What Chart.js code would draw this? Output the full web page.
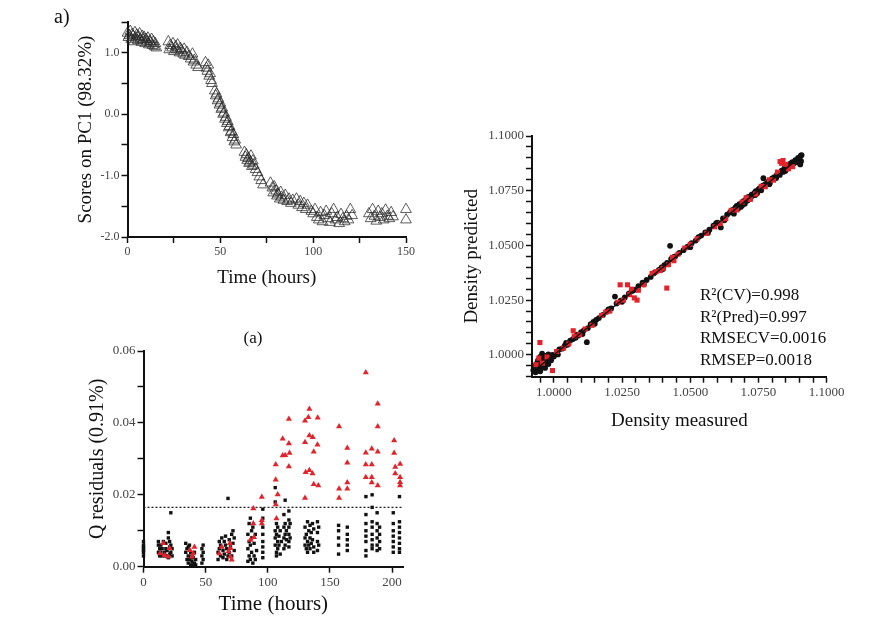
<!DOCTYPE html>
<html>
<head>
<meta charset="utf-8">
<script src="https://cdn.jsdelivr.net/npm/chart.js@4.4.0/dist/chart.umd.min.js"></script>
<style>
  html, body { margin: 0; padding: 0; background: #fff; }
  #wrap { position: relative; width: 890px; height: 624px; }
  #wrap canvas { position: absolute; left: 0; top: 0; }
</style>
</head>
<body>
<div id="wrap">
  <canvas id="pcChart" width="890" height="624"></canvas>
  <canvas id="qChart" width="890" height="624"></canvas>
  <canvas id="densChart" width="890" height="624"></canvas>
</div>
<script>
// ---- panel a) scores on PC1 vs time ----
const pcTime = [
  0,0.5,1,1.5,2,2.5,3,3.5,4,4.5,5,5.5,6,6.5,7,7.5,8,8.5,9,9.5,10,10.5,11,11.5,12,12.5,13,13.5,14,14.5,15,15.5,
  22,22.5,23,24,24.5,25,26,26.5,27,28,28.5,29,30,30.5,31,32,
  33,34,35,35.5,36,37,38,
  42,42.5,43,43.5,44,44.5,45,45.5,
  47,47.5,48,48.5,49,49.5,50,50.5,51,51.5,52,52.5,53,53.5,54,54.5,55,55.5,56,56.5,57,57.5,58,58.5,
  63,63.5,64,64.5,65,65.5,66,66.5,67,67.5,68,69,70,71,72,73,
  77,78,78.5,79,80,80.5,81,82,82.5,83,84,85,86,87,88,89,
  91,92,93,94,95,96,97,99,100,
  101,102,103,104,105,106,107,108,109,110,111,112,113,114,115,116,117,118,119,120,121,
  130,131,132,133,134,135,136,137,138,139,140,141,142,143,
  150,150
];
const pcScore = [
  1.32,1.25,1.28,1.35,1.22,1.30,1.27,1.18,1.33,1.24,1.29,1.20,1.26,1.31,1.22,1.17,1.27,1.21,1.25,1.15,1.22,1.18,1.24,1.13,1.19,1.16,1.22,1.12,1.18,1.10,1.15,1.08,
  1.18,1.05,1.12,1.08,1.15,1.02,1.10,1.05,1.13,1.00,1.07,1.04,0.98,1.06,0.96,1.01,
  0.94,0.90,0.98,0.85,0.88,0.80,0.76,
  0.84,0.75,0.70,0.80,0.62,0.66,0.55,0.50,
  0.38,0.30,0.33,0.22,0.25,0.15,0.18,0.08,0.10,0.0,0.02,-0.08,-0.05,-0.15,-0.12,-0.22,-0.20,-0.30,-0.28,-0.38,-0.33,-0.45,-0.42,-0.50,
  -0.62,-0.70,-0.66,-0.75,-0.72,-0.80,-0.78,-0.68,-0.85,-0.76,-0.83,-0.90,-0.95,-1.02,-1.08,-1.15,
  -1.12,-1.20,-1.28,-1.18,-1.25,-1.33,-1.30,-1.38,-1.27,-1.35,-1.40,-1.32,-1.42,-1.38,-1.45,-1.40,
  -1.38,-1.48,-1.42,-1.52,-1.45,-1.55,-1.48,-1.58,-1.62,
  -1.55,-1.68,-1.72,-1.60,-1.75,-1.65,-1.58,-1.70,-1.76,-1.62,-1.55,-1.72,-1.68,-1.78,-1.63,-1.70,-1.75,-1.66,-1.72,-1.55,-1.65,
  -1.62,-1.70,-1.55,-1.66,-1.74,-1.58,-1.68,-1.62,-1.72,-1.56,-1.66,-1.70,-1.60,-1.67,
  -1.55,-1.72
];
const pcXMajor = [0, 50, 100, 150];
const pcYMajor = [-2, -1, 0, 1];

// ---- panel (a) Q residuals vs time ----
const qTimeBlack = [
  0,0,0,0,0,0,0,
  12,12,12,13,13,14,14,15,15,16,17,17,18,18,19,19,20,20,20,21,21,21,22,22,22,23,23,
  34,34,35,35,36,36,37,37,38,38,39,39,40,40,41,41,42,42,36,38,
  47,47,47,48,48,48,
  60,60,61,61,62,62,63,64,64,65,65,66,66,67,67,68,68,69,69,70,71,71,72,72,73,73,
  84,84,84,85,85,85,86,86,86,87,87,87,88,88,89,89,90,90,91,
  96,96,96,96,96,96,96,96,
  106,106,106,106,106,107,107,107,107,108,108,108,109,109,110,110,111,
  113,113,113,113,114,114,114,114,115,115,117,117,117,117,117,117,118,118,
  130,130,130,131,131,132,132,132,133,133,134,134,134,135,135,136,136,137,137,137,140,140,140,140,141,141,
  157,157,157,157,157,
  164,164,164,164,164,
  179,179,179,179,179,179,179,179,
  184,184,184,184,184,184,184,184,
  188,188,188,188,188,188,190,190,190,190,
  201,201,201,201,201,201,201,
  206,206,206,206,206,206,206,206
];
const qValBlack = [
  .003,.004,.005,.006,.007,.0045,.0055,
  .004,.006,.007,.003,.005,.004,.006,.003,.005,.007,.004,.003,.005,.0065,.003,.0045,.0025,.008,.0095,.0035,.0055,.007,.004,.006,.015,.003,.005,
  .0065,.004,.002,.005,.001,.003,.006,.002,.0005,.004,.0015,.003,.0005,.0025,.001,.004,.002,.0005,.0055,.0025,
  .001,.003,.005,.006,.002,.004,
  .002,.004,.005,.007,.003,.006,.008,.0025,.0045,.007,.0035,.006,.0085,.002,.005,.019,.003,.004,.0075,.0055,.009,.003,.0065,.010,.0045,.008,
  .0015,.005,.009,.012,.003,.007,.0135,.002,.006,.010,.004,.008,.001,.011,.003,.0065,.002,.009,.0045,
  .016,.0135,.011,.009,.007,.0055,.004,.0025,
  .022,.018,.010,.008,.006,.012,.009,.004,.003,.011,.007,.005,.0085,.006,.010,.0035,.007,
  .0145,.011,.008,.005,.0185,.012,.009,.006,.010,.0075,.0155,.013,.011,.009,.007,.0055,.012,.008,
  .011,.008,.006,.009,.005,.0125,.007,.004,.010,.006,.0115,.008,.005,.0095,.0065,.012,.0075,.0105,.0055,.004,.0125,.0095,.007,.0045,.011,.006,
  .0115,.010,.008,.006,.0035,
  .011,.009,.0075,.006,.0045,
  .0195,.0145,.012,.010,.0085,.007,.0045,.003,
  .020,.0165,.0125,.011,.009,.0075,.006,.005,
  .015,.012,.010,.008,.006,.0045,.011,.009,.007,.005,
  .015,.012,.010,.0085,.007,.0055,.004,
  .0195,.0125,.011,.0095,.008,.0065,.005,.004
];
const qTimeRed = [
  106.4,106.4,108,106.5,107,112,112,114,117,117,117,117.5,
  130,132.7,133.5,130,133.5,136.2,137,130.5,133.5,136,137,130,140.2,140,140.7,
  157.4,157.4,157.4,164,164,164,164,
  178.9,178.9,178.9,178.9,183.7,183.7,183.7,183.7,188.5,188.5,188.5,188.5,
  201.7,201.7,202.6,202.6,206.5,206.5,206.5,206.5,
  88.4,88.4,89,86,95.2,95.2,95.2,
  69.6,70,71,68.5,70,63,61,
  37.4,40,39,41,13.3,17,20,21,16
];
const qValRed = [
  .0284,.0242,.0201,.0173,.0134,.0356,.0309,.031,.0343,.0411,.0279,.0316,
  .0406,.0416,.0439,.0346,.0365,.036,.032,.0263,.0268,.0259,.0229,.0191,.0414,.0339,.0226,
  .039,.0217,.0191,.033,.0289,.0234,.0217,
  .054,.0317,.0284,.0249,.0328,.0284,.0249,.0234,.0453,.039,.032,.0226,
  .0351,.0316,.0277,.0259,.0286,.0249,.0235,.0226,
  .0162,.012,.0082,.0074,.0194,.0129,.012,
  .0065,.0028,.0019,.0042,.0051,.0055,.0037,
  .0046,.0037,.0028,.0055,.0037,.0032,.0028,.0051,.0065
];
const qLimitTime = [0, 209];
const qLimitVal = [0.0165, 0.0165];
const qXMajor = [0, 50, 100, 150, 200];
const qYMajor = [0, 0.02, 0.04, 0.06];

// ---- density measured vs predicted ----
const dMeasBlack = [
  0.9925,0.9930,0.9933,0.9937,0.9940,0.9942,0.9945,0.9948,0.9950,0.9952,0.9955,0.9957,0.9960,0.9962,0.9965,0.9968,0.9970,0.9973,0.9976,0.9980,0.9985,0.9990,0.9995,1.0000,
  1.0010,1.0020,1.0030,1.0040,1.0050,1.0060,1.0070,1.0080,1.0090,1.0100,1.0110,1.0121,1.0125,1.0135,1.0145,1.0155,1.0165,1.0180,1.0195,1.0210,
  1.0224,1.0230,1.0245,1.0260,1.0275,1.0290,1.0300,1.0310,1.0325,1.0340,1.0355,1.0370,1.0385,1.0395,1.0405,1.0415,1.0426,1.0430,1.0445,1.0460,
  1.0475,1.0490,1.0505,1.0520,1.0540,1.0555,1.0570,1.0585,1.0600,1.0612,1.0620,1.0635,1.0645,1.0655,1.0660,1.0665,1.0670,1.0675,1.0680,1.0685,
  1.0690,1.0695,1.0700,1.0705,1.0710,1.0715,1.0720,1.0725,1.0730,1.0735,1.0740,1.0745,1.0750,1.0755,1.0760,1.0768,1.0770,1.0778,1.0785,1.0792,
  1.0800,1.0808,1.0815,1.0822,1.0828,1.0835,1.0840,1.0845,1.0850,1.0855,1.0860,1.0865,1.0870,1.0875,1.0880,1.0885,1.0890,1.0895,1.0900,1.0905,1.0908,1.0906,1.0903,
  0.9935,0.9950,0.9965,0.9980,1.0015,1.0045,1.0085,1.0105,1.0150,1.0200,1.0250,1.0285,1.0330,1.0365,1.0400,1.0440,
  1.0500,1.0530,1.0565,1.0595,1.0625,1.0650,1.0690,1.0712,1.0738,1.0765,1.0790,1.0818,1.0848,1.0872,1.0893
];
const dPredBlack = [
  0.9930,0.9945,0.9920,0.9960,0.9938,0.9975,0.9950,0.9930,0.9990,0.9962,0.9945,1.0005,0.9970,0.9955,0.9985,0.9940,0.9995,0.9968,0.9980,0.9958,0.9990,0.9975,1.0000,0.9992,
  1.0008,1.0025,1.0028,1.0042,1.0046,1.0065,1.0072,1.0078,1.0088,1.0104,1.0112,1.0058,1.0122,1.0140,1.0150,1.0160,1.0168,1.0182,1.0198,1.0212,
  1.0266,1.0235,1.0248,1.0262,1.0280,1.0294,1.0298,1.0314,1.0330,1.0342,1.0356,1.0376,1.0388,1.0400,1.0410,1.0420,1.0498,1.0438,1.0450,1.0466,
  1.0478,1.0494,1.0510,1.0522,1.0545,1.0560,1.0572,1.0590,1.0604,1.0582,1.0624,1.0640,1.0650,1.0662,1.0645,1.0672,1.0680,1.0668,1.0688,1.0676,
  1.0695,1.0702,1.0690,1.0712,1.0705,1.0722,1.0715,1.0732,1.0728,1.0740,1.0748,1.0738,1.0756,1.0762,1.0752,1.0807,1.0775,1.0782,1.0790,1.0788,
  1.0806,1.0812,1.0808,1.0830,1.0822,1.0842,1.0836,1.0852,1.0845,1.0862,1.0858,1.0872,1.0866,1.0880,1.0876,1.0890,1.0885,1.0900,1.0895,1.0910,1.0913,1.0885,1.0870,
  0.9955,0.9925,0.9948,1.0002,1.0002,1.0055,1.0092,1.0095,1.0142,1.0208,1.0242,1.0292,1.0322,1.0372,1.0392,1.0448,
  1.0492,1.0538,1.0558,1.0602,1.0615,1.0658,1.0682,1.0720,1.0730,1.0772,1.0780,1.0825,1.0840,1.0878,1.0880
];
const dMeasRed = [
  0.9949,0.9995,0.9935,0.9945,0.9958,0.9975,1.0010,1.0035,1.0055,1.0071,1.0075,1.0095,1.0115,1.0140,1.0175,1.0190,1.0205,1.0235,1.0243,1.0255,
  1.0270,1.0278,1.0285,1.0295,1.0305,1.0310,1.0330,1.0360,1.0375,1.0390,1.0400,1.0414,1.0420,1.0435,1.0440,1.0455,1.0480,1.0500,1.0525,1.0560,
  1.0590,1.0610,1.0630,1.0650,1.0670,1.0690,1.0705,1.0720,1.0740,1.0760,1.0775,1.0790,1.0805,1.0820,1.0829,1.0835,1.0840,1.0850,1.0860,1.0875
];
const dPredRed = [
  1.0056,0.9928,0.9955,0.9985,0.9962,0.9990,1.0015,1.0030,1.0050,1.0110,1.0085,1.0092,1.0118,1.0135,1.0180,1.0195,1.0200,1.0240,1.0320,1.0250,
  1.0320,1.0275,1.0300,1.0260,1.0250,1.0295,1.0320,1.0372,1.0380,1.0385,1.0395,1.0305,1.0412,1.0445,1.0430,1.0460,1.0488,1.0505,1.0530,1.0555,
  1.0585,1.0600,1.0622,1.0660,1.0662,1.0698,1.0718,1.0710,1.0735,1.0770,1.0768,1.0800,1.0798,1.0835,1.0883,1.0875,1.0888,1.0870,1.0850,1.0860
];
const fitMeas = [0.9925, 1.0910];
const fitPred = [0.9925, 1.0910];
const densMajor = [1.0, 1.025, 1.05, 1.075, 1.1];
const densStats = ['R\u00b2(CV)=0.998', 'R\u00b2(Pred)=0.997', 'RMSECV=0.0016', 'RMSEP=0.0018'];

const SERIF = "'Liberation Serif', 'Times New Roman', serif";
const RED = '#e3222a';

const toPoints = (xs, ys) => xs.map((x, i) => ({ x: x, y: ys[i] }));

// one linear axis, box size fixed so the plot areas land where the figure has them
function axis(o) {
  return {
    type: 'linear',
    min: o.min,
    max: o.max,
    ticks: {
      stepSize: o.step,
      autoSkip: false,
      includeBounds: false,
      maxRotation: 0,
      padding: 2,
      color: '#444',
      font: { family: SERIF, size: o.tickSize },
      callback: (v) => o.major.some(m => Math.abs(m - v) < 1e-9) ? v.toFixed(o.digits) : ''
    },
    grid: { display: true, drawOnChartArea: false, drawTicks: true, tickLength: 6, tickWidth: 1.5, color: '#111' },
    border: { display: true, color: '#111', width: 2 },
    title: {
      display: true, text: o.title, color: '#111', padding: 0,
      font: { family: SERIF, size: o.titleSize, lineHeight: 1.2 }
    },
    afterFit: (s) => {
      if (s.isHorizontal()) s.height = o.size; else s.width = o.size;
    }
  };
}

// free text (panel letters, stats box)
const notes = {
  id: 'notes',
  afterDraw(chart, args, opts) {
    const ctx = chart.ctx;
    ctx.save();
    ctx.fillStyle = '#111';
    ctx.textBaseline = 'middle';
    (opts.items || []).forEach(it => {
      ctx.font = it.size + 'px ' + SERIF;
      ctx.textAlign = it.align || 'left';
      ctx.fillText(it.text, it.x, it.y);
    });
    ctx.restore();
  }
};

const common = {
  responsive: false,
  animation: false,
  events: [],
};

new Chart(document.getElementById('pcChart'), {
  type: 'scatter',
  data: {
    datasets: [{
      data: toPoints(pcTime, pcScore),
      pointStyle: 'triangle',
      pointRadius: 6.2,
      pointBorderWidth: 1,
      borderColor: 'rgba(40,40,40,0.75)',
      backgroundColor: 'rgba(255,255,255,0)',
      clip: false
    }]
  },
  options: {
    ...common,
    layout: { padding: { left: 74.5, top: 22, right: 484, bottom: 335 } },
    plugins: {
      legend: { display: false }, tooltip: { enabled: false },
      notes: { items: [{ text: 'a)', x: 54, y: 18, size: 20 }] }
    },
    scales: {
      x: axis({ min: 0, max: 150, step: 25, major: pcXMajor, digits: 0, tickSize: 12, title: 'Time (hours)', titleSize: 19, size: 52 }),
      y: axis({ min: -2, max: 1.5, step: 0.5, major: pcYMajor, digits: 1, tickSize: 12, title: 'Scores on PC1 (98.32%)', titleSize: 19, size: 53 })
    }
  },
  plugins: [notes]
});

new Chart(document.getElementById('qChart'), {
  type: 'scatter',
  data: {
    datasets: [{
      data: toPoints(qTimeRed, qValRed),
      pointStyle: 'triangle',
      pointRadius: 3.5,
      pointBorderWidth: 0,
      backgroundColor: RED,
      borderColor: RED,
      clip: false
    }, {
      data: toPoints(qTimeBlack, qValBlack),
      pointStyle: 'rect',
      pointRadius: 2.4,
      pointBorderWidth: 0,
      backgroundColor: '#111',
      borderColor: '#111',
      clip: false
    }, {
      type: 'line',
      data: toPoints(qLimitTime, qLimitVal),
      borderColor: '#222',
      borderWidth: 1.3,
      borderDash: [2, 2],
      pointRadius: 0,
      fill: false
    }]
  },
  options: {
    ...common,
    layout: { padding: { left: 86, top: 351, right: 486.8, bottom: 7.4 } },
    plugins: {
      legend: { display: false }, tooltip: { enabled: false },
      notes: { items: [{ text: '(a)', x: 253, y: 339, size: 17, align: 'center' }] }
    },
    scales: {
      x: axis({ min: 0, max: 209, step: 50, major: qXMajor, digits: 0, tickSize: 13, title: 'Time (hours)', titleSize: 21, size: 49.9 }),
      y: axis({ min: 0, max: 0.06, step: 0.01, major: qYMajor, digits: 2, tickSize: 13, title: 'Q residuals (0.91%)', titleSize: 20, size: 57.5 })
    }
  },
  plugins: [notes]
});

// first dataset is painted last: fit line on top, then red, then black
new Chart(document.getElementById('densChart'), {
  type: 'scatter',
  data: {
    datasets: [{
      type: 'line',
      data: toPoints(fitMeas, fitPred),
      borderColor: '#111',
      borderWidth: 1.5,
      pointRadius: 0,
      fill: false
    }, {
      data: toPoints(dMeasRed, dPredRed),
      pointStyle: 'rect',
      pointRadius: 3.6,
      pointBorderWidth: 0,
      backgroundColor: RED,
      borderColor: RED,
      clip: false
    }, {
      data: toPoints(dMeasBlack, dPredBlack),
      pointStyle: 'circle',
      pointRadius: 2.9,
      pointBorderWidth: 0,
      backgroundColor: '#111',
      borderColor: '#111',
      clip: false
    }]
  },
  options: {
    ...common,
    layout: { padding: { left: 460.6, top: 136, right: 63.3, bottom: 191.1 } },
    plugins: {
      legend: { display: false }, tooltip: { enabled: false },
      notes: {
        items: densStats.map((s, i) => ({ text: s, x: 700, y: 296 + i * 21.5, size: 17 }))
      }
    },
    scales: {
      x: axis({ min: 0.992, max: 1.1, step: 0.005, major: densMajor, digits: 4, tickSize: 13, title: 'Density measured', titleSize: 19, size: 56.2 }),
      y: axis({ min: 0.99, max: 1.1, step: 0.005, major: densMajor, digits: 4, tickSize: 13, title: 'Density predicted', titleSize: 19, size: 71.4 })
    }
  },
  plugins: [notes]
});
</script>
</body>
</html>
